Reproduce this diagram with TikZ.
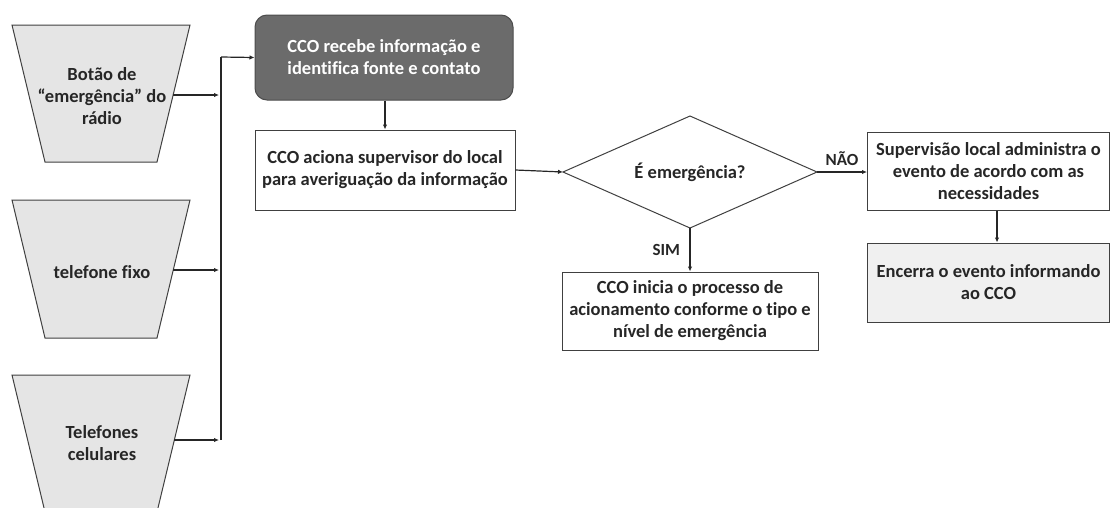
\documentclass[tikz,border=0pt]{standalone}
\usepackage{fontspec}
\setmainfont[Ligatures={NoCommon}]{Carlito}
\usetikzlibrary{arrows.meta}
\begin{document}
\begin{tikzpicture}[x=1pt,y=-1pt,
  txt/.style={font=\bfseries\fontsize{18.5}{22}\selectfont, align=center, text=black!85},
  trap/.style={draw=black!75, fill=black!10, line width=1pt},
  box/.style={draw=black!75, fill=white, line width=1pt, txt, inner sep=0pt},
  conn/.style={draw=black!85, line width=1.2pt, -{Latex[length=5pt,width=4.5pt]}},
  lbl/.style={font=\bfseries\fontsize{17}{20}\selectfont, text=black!85}]
\useasboundingbox (0,0) rectangle (1110,507);
\begin{scope}
\clip (0,0) rectangle (1110,507);
% trapezoids
\draw[trap] (12,25) -- (190,25) -- (157,162) -- (45,162) -- cycle;
\draw[trap] (12,200) -- (190,200) -- (157,338) -- (45,338) -- cycle;
\draw[trap] (12,375) -- (190,375) -- (157,512) -- (45,512) -- cycle;
\end{scope}
\node[txt] (t1) at (102,96) {Botão de\\“emergência” do\\rádio};
\node[txt] (t2) at (102,272) {telefone fixo};
\node[txt] (t3) at (102,443) {Telefones\\celulares};
\coordinate (t1r) at (173,95);
\coordinate (t2r) at (173,270);
\coordinate (t3r) at (174,440);
\coordinate (bus1) at (219,95);
\coordinate (bus2) at (219,270);
\coordinate (bus3) at (219,440);
\coordinate (bustop) at (221,57);
% boxes
\node[box, fill=black!58, draw=black!70, rounded corners=12pt, text=white, minimum width=258, minimum height=85] (cco) at (384,57.5) {CCO recebe informação e\\identifica fonte e contato};
\node[box, minimum width=260, minimum height=80] (acio) at (385,170) {CCO aciona supervisor do local\\para averiguação da informação};
\path (563,172) coordinate (dl) (690,116) coordinate (dt) (817,172) coordinate (dr) (690,228) coordinate (db);
\draw[draw=black!75, fill=white, line width=1pt] (dl) -- (dt) -- (dr) -- (db) -- cycle;
\node[txt] (q) at (690,172) {É emergência?};
\node[box, minimum width=256, minimum height=78] (sim) at (690,311) {CCO inicia o processo de\\acionamento conforme o tipo e\\nível de emergência};
\node[box, minimum width=242, minimum height=78, anchor=west] (sup) at (867,171) {Supervisão local administra o\\evento de acordo com as\\necessidades};
\node[box, fill=black!6, minimum width=242, minimum height=79, anchor=west] (enc) at (867,282.5) {Encerra o evento informando\\ao CCO};
% connectors
\draw[conn] (t1r) -- (bus1);
\draw[conn] (t2r) -- (bus2);
\draw[conn] (t3r) -- (bus3);
\draw[black!85, line width=1.2pt] (221,440) -- (bustop);
\draw[conn] (bustop) -- (cco.west);
\draw[conn] (cco.south -| acio.north) -- (acio.north);
\draw[conn] (acio.east) -- (dl);
\draw[conn] (db) -- (db |- sim.north) node[lbl, midway, left=6pt] {SIM};
\draw[conn] (dr) -- (dr -| sup.west) node[lbl, midway, above=2pt] {NÃO};
\draw[conn] (sup.south -| 997,0) -- (enc.north -| 997,0);
\end{tikzpicture}
\end{document}
